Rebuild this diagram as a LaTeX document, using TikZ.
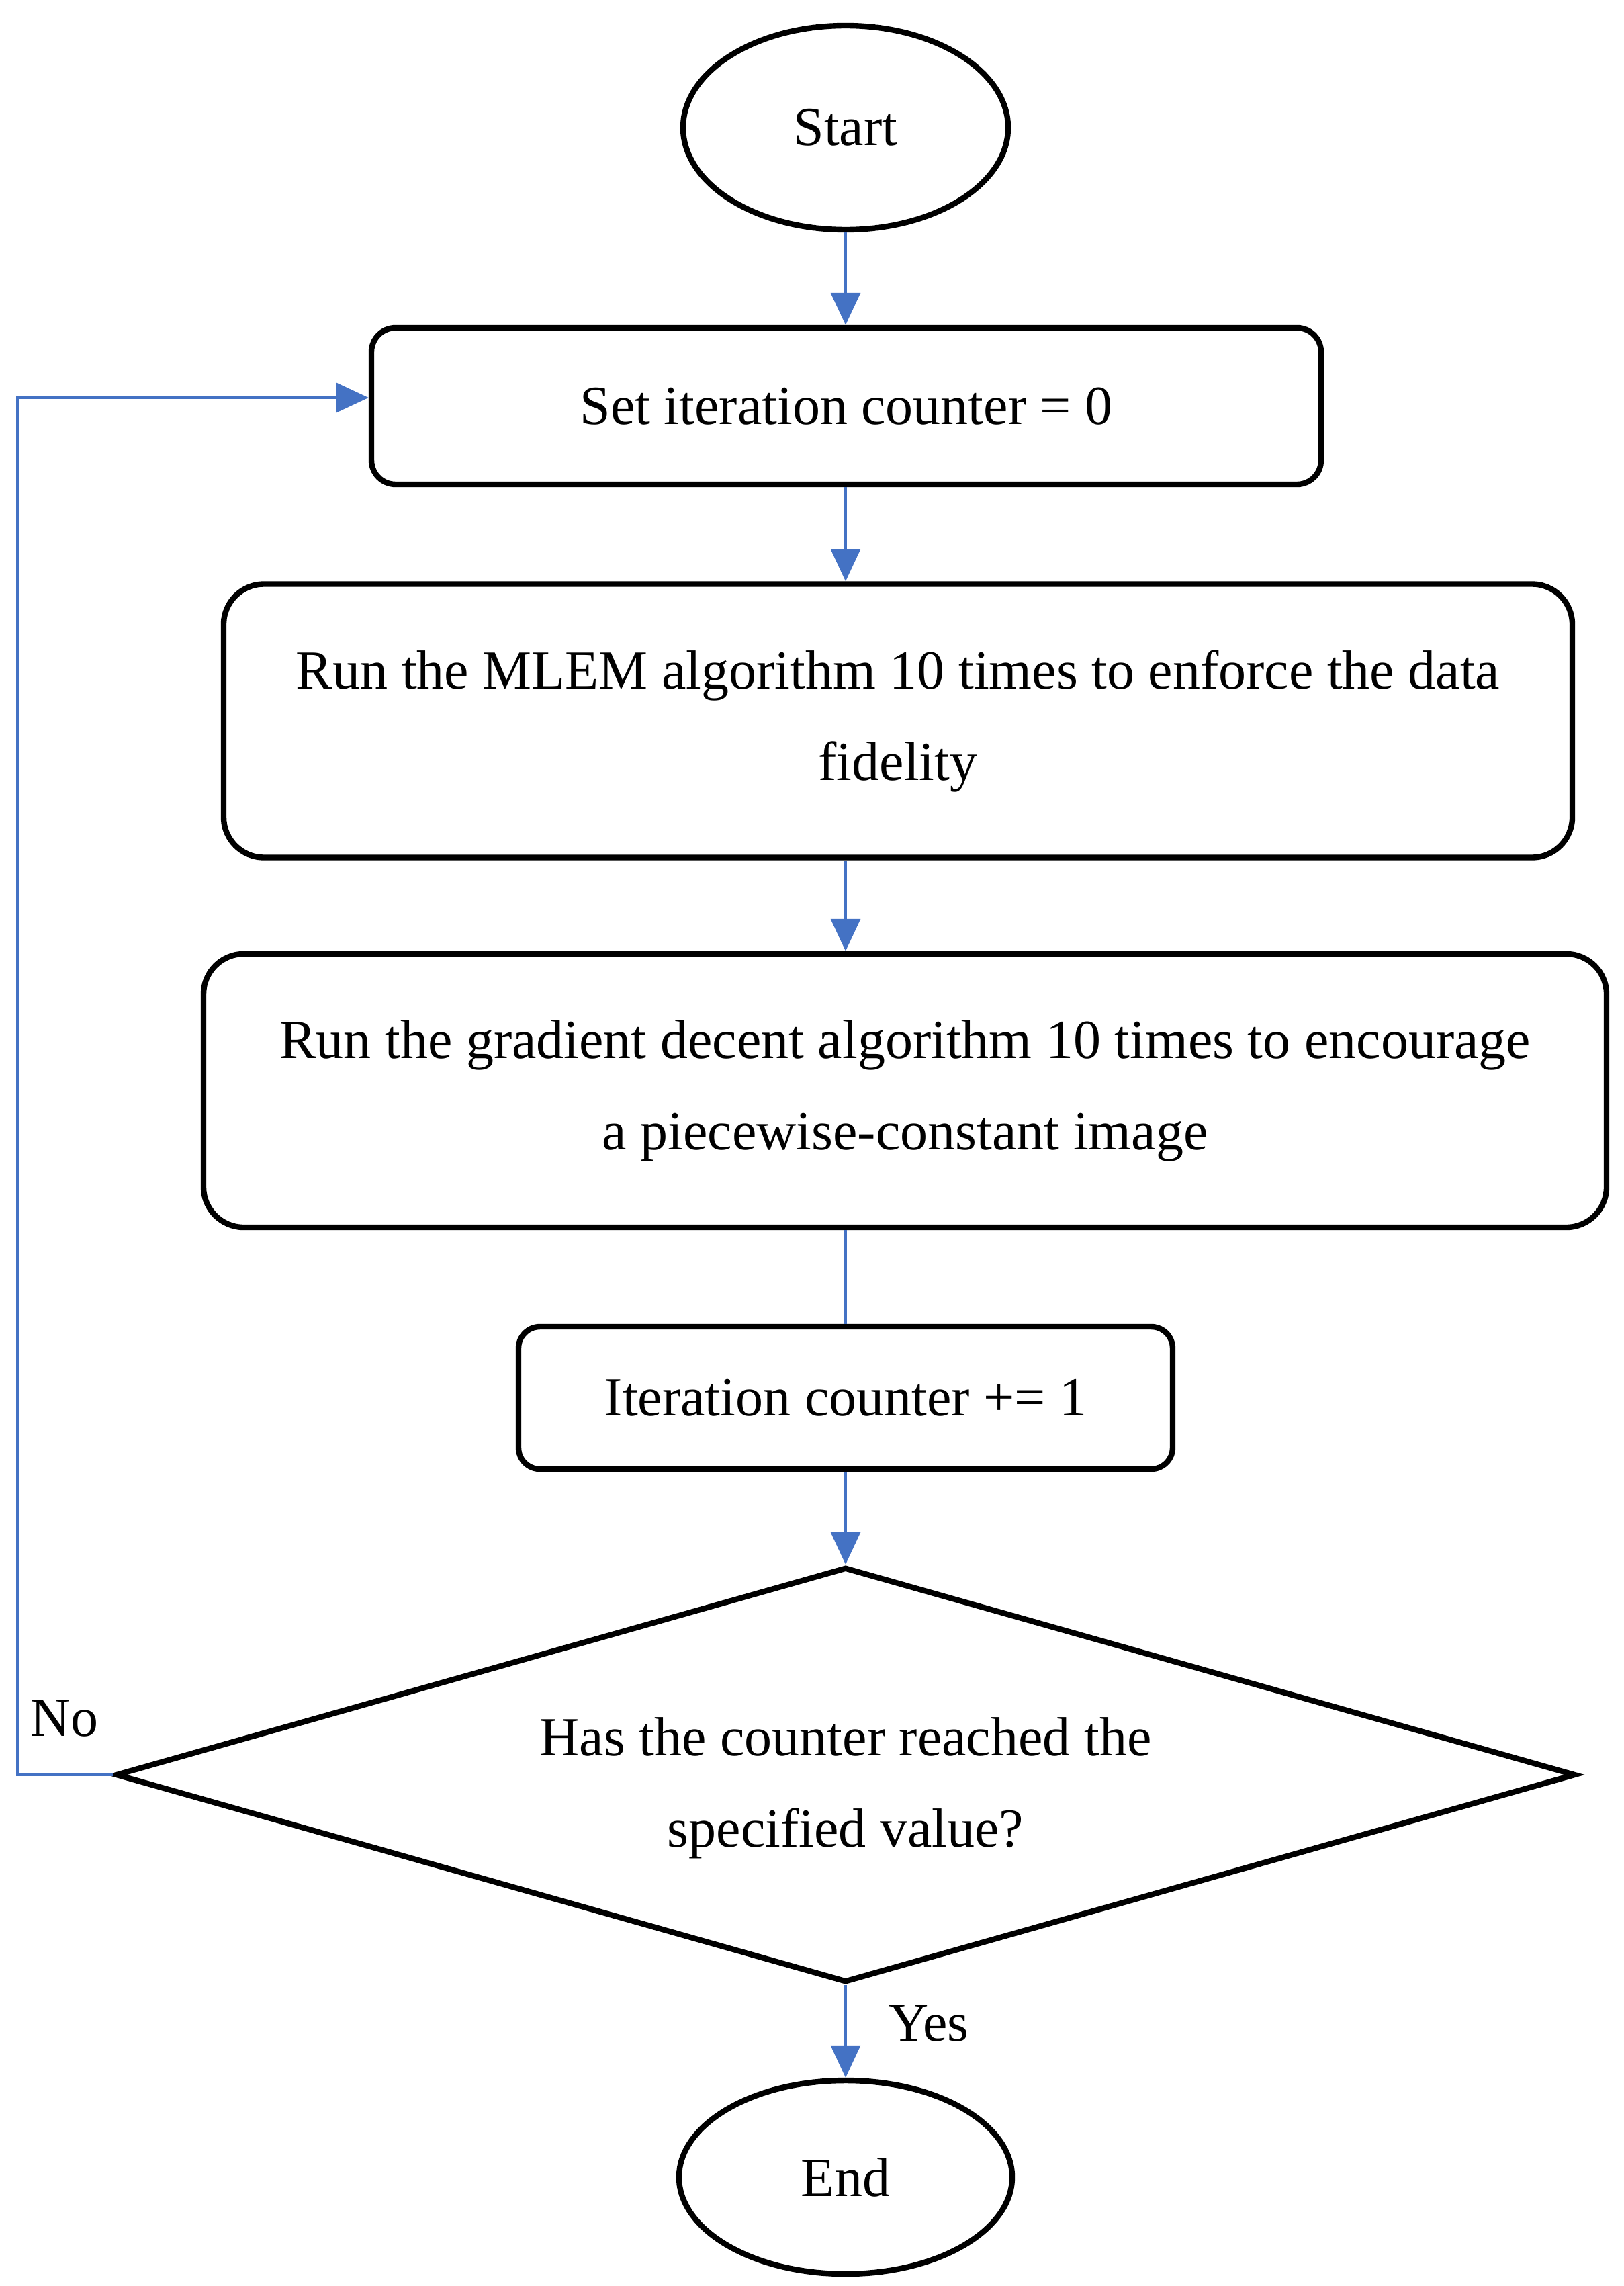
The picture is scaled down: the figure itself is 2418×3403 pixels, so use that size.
\documentclass[tikz,border=0pt]{standalone}
\usepackage{fontspec}
\setmainfont{Liberation Serif}
\usetikzlibrary{shapes.geometric,arrows.meta,calc}
\definecolor{lineblue}{HTML}{4472C4}
\tikzset{
  txt/.style={font=\fontsize{20.5}{34}\selectfont, align=center},
  term/.style={ellipse, draw=black, line width=2.1pt, inner sep=0pt, txt},
  proc/.style={rectangle, draw=black, line width=2.1pt, inner sep=0pt, txt},
  decision/.style={diamond, draw=black, line width=2.1pt, inner sep=0pt},
  conn/.style={draw=lineblue, line width=0.85pt},
  arr/.style={conn, -{Triangle[length=12pt,width=11pt]}},
  lbl/.style={txt, inner sep=0pt}
}
\begin{document}
\begin{tikzpicture}[x=0.25pt,y=-0.25pt]
\useasboundingbox (0,0) rectangle (2418,3403);
\node[term, minimum width=121pt, minimum height=76pt] (start) at (1259,190) {Start};
\node[proc, rounded corners=9pt, minimum width=353.5pt, minimum height=58.25pt] (box1) at (1260,604.5) {Set iteration counter = 0};
\node[proc, rounded corners=15pt, minimum width=502pt, minimum height=101.75pt] (box2) at (1337,1073) {Run the MLEM algorithm 10 times to enforce the data\\fidelity};
\node[proc, rounded corners=15pt, minimum width=522.25pt, minimum height=101.75pt] (box3) at (1347.5,1623.5) {Run the gradient decent algorithm 10 times to encourage\\a piecewise-constant image};
\node[proc, rounded corners=8pt, minimum width=243.5pt, minimum height=53pt] (box4) at (1259,2081) {Iteration counter += 1};
\node[decision, aspect=3.52, minimum width=543.5pt, minimum height=154.5pt] (dec) at (1259,2642) {};
\node[lbl] (dectext) at (1259,2662) {Has the counter reached the\\specified value?};
\node[term, minimum width=124pt, minimum height=72pt] (end) at (1259,3241) {End};

\node[lbl] (no) at (96,2558) {No};
\node[lbl] (yes) at (1383,3012) {Yes};

\draw[arr] (start.south) -- (box1.north -| start.south);
\draw[arr] (box1.south -| start.south) -- (box2.north -| start.south);
\draw[arr] (box2.south -| start.south) -- (box3.north -| start.south);
\draw[conn] (box3.south -| start.south) -- (box4.north -| start.south);
\draw[arr] (box4.south -| start.south) -- (dec.north);
\draw[arr] (dec.south) -- (end.north);
\coordinate (loopcorner) at (26,2642);
\coordinate (looptop) at (26,592);
\draw[arr] (dec.west) -- (loopcorner) -- (looptop) -- (looptop -| box1.west);
\end{tikzpicture}
\end{document}
